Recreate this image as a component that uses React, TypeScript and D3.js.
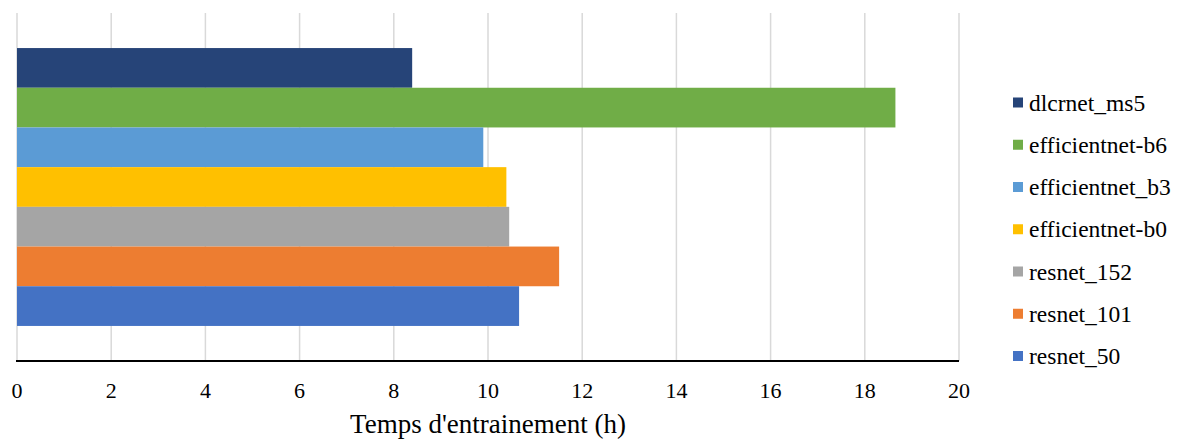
import React from "react";
import * as d3 from "d3";

const seriesNames = [
  "dlcrnet_ms5",
  "efficientnet-b6",
  "efficientnet_b3",
  "efficientnet-b0",
  "resnet_152",
  "resnet_101",
  "resnet_50",
];
const seriesValues = [8.39, 18.65, 9.9, 10.39, 10.45, 11.51, 10.66];
const seriesColors = ["#264478", "#70ad47", "#5b9bd5", "#ffc000", "#a5a5a5", "#ed7d31", "#4472c4"];
const xTicks = [0, 2, 4, 6, 8, 10, 12, 14, 16, 18, 20];
const xTitle = "Temps d'entrainement (h)";

const W = 1182;
const H = 439;
const plotLeft = 17;
const plotRight = 959;
const plotTop = 13;
const plotBottom = 361;
const font = "Liberation Serif";

export default function App() {
  const x = d3.scaleLinear().domain([0, 20]).range([plotLeft, plotRight]);
  const y = d3
    .scaleBand<string>()
    .domain(seriesNames)
    .range([plotTop, plotBottom])
    .paddingInner(0)
    .paddingOuter(0.883);

  const legendY = d3.scalePoint<string>().domain(seriesNames).range([102.5, 356]);

  return (
    <svg
      width={W}
      height={H}
      style={{ position: "absolute", left: 0, top: 0, background: "#fff", fontFamily: font }}
    >
      {xTicks.map((t) => (
        <line
          key={"g" + t}
          x1={x(t)}
          x2={x(t)}
          y1={plotTop}
          y2={plotBottom}
          stroke="#d9d9d9"
          strokeWidth={1.5}
        />
      ))}
      {seriesNames.map((s, i) => (
        <rect
          key={s}
          x={x(0)}
          y={y(s)}
          width={x(seriesValues[i]) - x(0)}
          height={y.bandwidth()}
          fill={seriesColors[i]}
        />
      ))}
      <line
        x1={plotLeft - 1}
        x2={plotRight}
        y1={plotBottom}
        y2={plotBottom}
        stroke="#000"
        strokeWidth={1.8}
      />
      {xTicks.map((t) => (
        <text
          key={"t" + t}
          x={x(t)}
          y={398}
          textAnchor="middle"
          style={{ fontFamily: font, fontSize: "22px" }}
          fill="#000"
        >
          {t}
        </text>
      ))}
      <text
        x={(plotLeft + plotRight) / 2}
        y={433}
        textAnchor="middle"
        style={{ fontFamily: font, fontSize: "27px" }}
        fill="#000"
      >
        {xTitle}
      </text>
      {seriesNames.map((s, i) => (
        <g key={"l" + s} transform={`translate(0,${legendY(s)})`}>
          <rect x={1013} y={-5} width={10} height={10} fill={seriesColors[i]} />
          <text
            x={1029}
            y={0}
            dy="0.35em"
            style={{ fontFamily: font, fontSize: "23.5px" }}
            fill="#000"
          >
            {s}
          </text>
        </g>
      ))}
    </svg>
  );
}
